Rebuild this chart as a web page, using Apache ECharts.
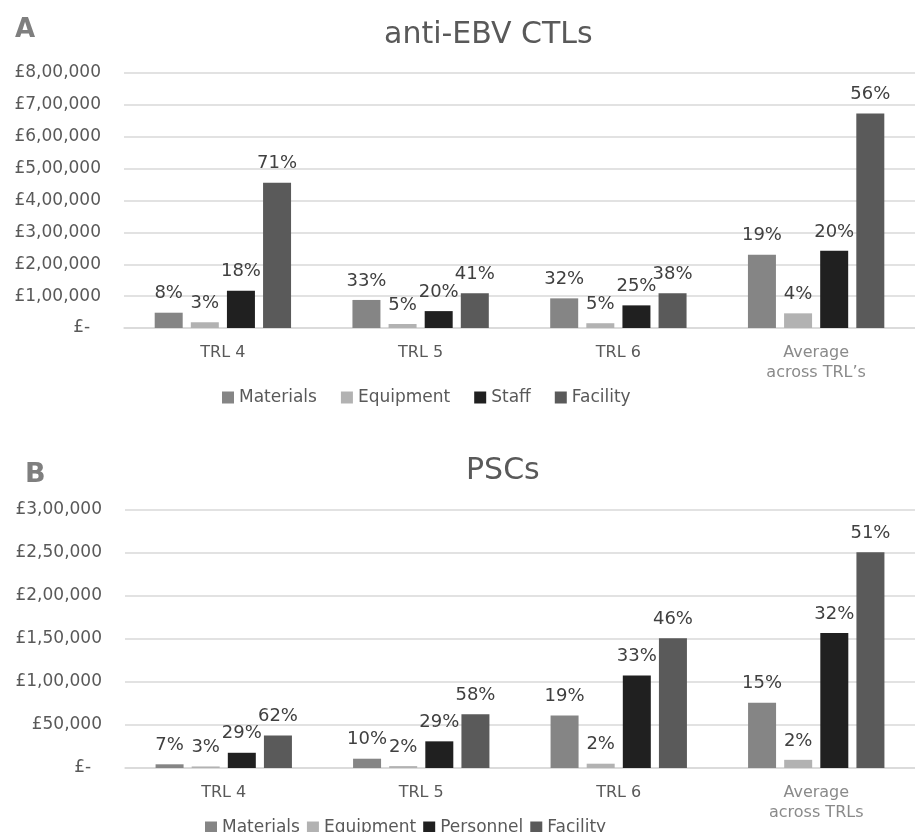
<!DOCTYPE html>
<html>
<head>
<meta charset="utf-8">
<title>TRL costs</title>
<script src="https://cdn.jsdelivr.net/npm/echarts@6.0.0/dist/echarts.min.js"></script>
<style>
  body { margin: 0; background: #fff; }
  #chart { width: 915px; height: 832px; }
</style>
</head>
<body>
<div id="chart"></div>
<script>
// panel A - anti-EBV CTLs
var categoriesA = ['TRL 4', 'TRL 5', 'TRL 6', 'Average\nacross TRL\u2019s'];
var namesA = ['Materials', 'Equipment', 'Staff', 'Facility'];
var materialsA = [48000, 88000, 93000, 230000];
var equipmentA = [18000, 12500, 15000, 46000];
var staffA = [117000, 53000, 71000, 242000];
var facilityA = [456000, 109000, 109000, 673000];
var pctMaterialsA = ['8%', '33%', '32%', '19%'];
var pctEquipmentA = ['3%', '5%', '5%', '4%'];
var pctStaffA = ['18%', '20%', '25%', '20%'];
var pctFacilityA = ['71%', '41%', '38%', '56%'];
var yTicksA = ['£-  ', '£1,00,000', '£2,00,000', '£3,00,000', '£4,00,000',
  '£5,00,000', '£6,00,000', '£7,00,000', '£8,00,000'];

// panel B - PSCs
var categoriesB = ['TRL 4', 'TRL 5', 'TRL 6', 'Average\nacross TRLs'];
var namesB = ['Materials', 'Equipment', 'Personnel', 'Facility'];
var materialsB = [4300, 10800, 61000, 76000];
var equipmentB = [1800, 2200, 5000, 9500];
var personnelB = [17700, 31000, 107500, 157000];
var facilityB = [37800, 62500, 151000, 251000];
var pctMaterialsB = ['7%', '10%', '19%', '15%'];
var pctEquipmentB = ['3%', '2%', '2%', '2%'];
var pctPersonnelB = ['29%', '29%', '33%', '32%'];
var pctFacilityB = ['62%', '58%', '46%', '51%'];
var yTicksB = ['£-  ', '£50,000', '£1,00,000', '£1,50,000', '£2,00,000',
  '£2,50,000', '£3,00,000'];

var barColors = ['#858585', '#b2b2b2', '#202020', '#5a5a5a'];
var fontName = 'DejaVu Sans';

function makeBar(name, data, labels, idx, axisIdx) {
  return {
    name: name,
    type: 'bar',
    xAxisIndex: axisIdx,
    yAxisIndex: axisIdx,
    barWidth: 28,
    barGap: '29%',
    itemStyle: { color: barColors[idx] },
    label: {
      show: true,
      position: 'top',
      distance: 10,
      fontFamily: fontName,
      fontSize: 18,
      lineHeight: 18,
      color: '#404040',
      formatter: function (p) { return labels[p.dataIndex]; }
    },
    data: data
  };
}

function catAxis(grid, cats) {
  return {
    type: 'category',
    gridIndex: grid,
    data: cats,
    axisTick: { show: false },
    axisLine: { lineStyle: { color: '#d9d9d9', width: 1.5 } },
    axisLabel: {
      interval: 0,
      margin: 15,
      fontFamily: fontName,
      fontSize: 16,
      lineHeight: 20,
      color: function (v, i) { return i === 3 ? '#8a8a8a' : '#595959'; }
    }
  };
}

function valAxis(grid, max, step, ticks) {
  return {
    type: 'value',
    gridIndex: grid,
    min: 0,
    max: max,
    interval: step,
    axisLine: { show: false },
    axisTick: { show: false },
    splitLine: { lineStyle: { color: '#d9d9d9', width: 1.5 } },
    axisLabel: {
      margin: 23,
      fontFamily: fontName,
      fontSize: 17,
      color: '#595959',
      formatter: function (v, i) { return ticks[Math.round(v / step)]; }
    }
  };
}

var legendText = { fontFamily: fontName, fontSize: 17, color: '#595959' };

var myChart = echarts.init(document.getElementById('chart')),
  option = {
    backgroundColor: '#fff',
    animation: false,
    title: [
      { text: 'A', left: 10, top: 12, textStyle: { fontFamily: fontName, fontSize: 26, fontWeight: 'bold', color: '#7f7f7f' } },
      { text: 'anti-EBV CTLs', left: 379, top: 15, textStyle: { fontFamily: fontName, fontSize: 30, fontWeight: 'normal', color: '#595959' } },
      { text: 'B', left: 20, top: 456, textStyle: { fontFamily: fontName, fontSize: 27, fontWeight: 'bold', color: '#7f7f7f' } },
      { text: 'PSCs', left: 461, top: 451, textStyle: { fontFamily: fontName, fontSize: 30, fontWeight: 'normal', color: '#595959' } }
    ],
    legend: [
      {
        left: 217, top: 384, itemWidth: 12, itemHeight: 12, itemGap: 24,
        icon: 'rect', textStyle: legendText, data: namesA
      },
      {
        left: 200, top: 814, itemWidth: 12, itemHeight: 12, itemGap: 7,
        icon: 'rect', textStyle: legendText, data: namesB
      }
    ],
    grid: [
      { left: 124, right: 0, top: 73, height: 255 },
      { left: 125, right: 0, top: 510, height: 258 }
    ],
    xAxis: [catAxis(0, categoriesA), catAxis(1, categoriesB)],
    yAxis: [valAxis(0, 800000, 100000, yTicksA), valAxis(1, 300000, 50000, yTicksB)],
    series: [
      makeBar(namesA[0], materialsA, pctMaterialsA, 0, 0),
      makeBar(namesA[1], equipmentA, pctEquipmentA, 1, 0),
      makeBar(namesA[2], staffA, pctStaffA, 2, 0),
      makeBar(namesA[3], facilityA, pctFacilityA, 3, 0),
      makeBar(namesB[0], materialsB, pctMaterialsB, 0, 1),
      makeBar(namesB[1], equipmentB, pctEquipmentB, 1, 1),
      makeBar(namesB[2], personnelB, pctPersonnelB, 2, 1),
      makeBar(namesB[3], facilityB, pctFacilityB, 3, 1)
    ]
  };
myChart.setOption(option, true);
</script>
</body>
</html>
